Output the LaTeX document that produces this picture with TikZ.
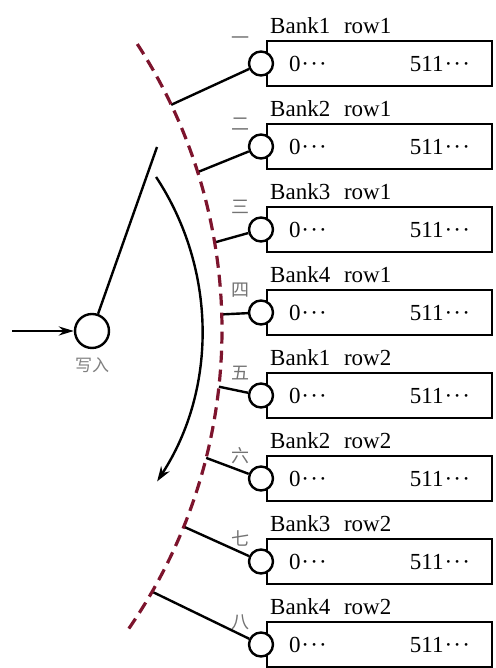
\documentclass[tikz,border=0pt]{standalone}
\usepackage{fontspec}
\setmainfont{Liberation Serif}
\newfontfamily\cjk{Noto Sans CJK SC}
\usepackage{xcolor}
\usepackage{tikz}
\usetikzlibrary{arrows.meta, positioning, calc}
\definecolor{ringred}{RGB}{125,20,45}
\newcommand{\celldots}{\kern1pt·\kern1.2pt·\kern1.2pt·}
\newcommand{\cells}{\makebox[181pt]{0\celldots\hfill 511\celldots}}

\begin{document}
\begin{tikzpicture}[
    x=1pt, y=1pt,
    bankbox/.style={rectangle, draw, line width=2.6pt, minimum width=225pt, minimum height=45pt, inner xsep=22pt, inner ysep=0pt, outer sep=0pt, font=\fontsize{23}{25}\selectfont},
    banklabel/.style={inner sep=0pt, font=\fontsize{23}{25}\selectfont},
    port/.style={circle, draw, line width=2.4pt, fill=white, minimum size=24pt, inner sep=0pt},
    numlabel/.style={inner sep=0pt, text=black!55, font=\cjk\fontsize{18}{20}\selectfont},
    link/.style={line width=2.4pt},
    ring/.style={line width=3.2pt, ringred, dash pattern=on 12pt off 7pt},
    sweep/.style={line width=2.4pt, -{Stealth[length=15pt, width=10pt]}}
]
\useasboundingbox (0,0) rectangle (495,668);

% bank rows
\node[bankbox] (bank1) at (379.5,604.5) {\cells};
\node[bankbox, below=38pt of bank1] (bank2) {\cells};
\node[bankbox, below=38pt of bank2] (bank3) {\cells};
\node[bankbox, below=38pt of bank3] (bank4) {\cells};
\node[bankbox, below=38pt of bank4] (bank5) {\cells};
\node[bankbox, below=38pt of bank5] (bank6) {\cells};
\node[bankbox, below=38pt of bank6] (bank7) {\cells};
\node[bankbox, below=38pt of bank7] (bank8) {\cells};

% row titles
\node[banklabel, above right=7pt and 3pt of bank1.north west] (lab1) {Bank1\hspace{0.6em}row1};
\node[banklabel, above right=7pt and 3pt of bank2.north west] (lab2) {Bank2\hspace{0.6em}row1};
\node[banklabel, above right=7pt and 3pt of bank3.north west] (lab3) {Bank3\hspace{0.6em}row1};
\node[banklabel, above right=7pt and 3pt of bank4.north west] (lab4) {Bank4\hspace{0.6em}row1};
\node[banklabel, above right=7pt and 3pt of bank5.north west] (lab5) {Bank1\hspace{0.6em}row2};
\node[banklabel, above right=7pt and 3pt of bank6.north west] (lab6) {Bank2\hspace{0.6em}row2};
\node[banklabel, above right=7pt and 3pt of bank7.north west] (lab7) {Bank3\hspace{0.6em}row2};
\node[banklabel, above right=7pt and 3pt of bank8.north west] (lab8) {Bank4\hspace{0.6em}row2};

% ports on the left edge
\node[port] (port1) at ([xshift=-6pt]bank1.west) {};
\node[port] (port2) at ([xshift=-6pt]bank2.west) {};
\node[port] (port3) at ([xshift=-6pt]bank3.west) {};
\node[port] (port4) at ([xshift=-6pt]bank4.west) {};
\node[port] (port5) at ([xshift=-6pt]bank5.west) {};
\node[port] (port6) at ([xshift=-6pt]bank6.west) {};
\node[port] (port7) at ([xshift=-6pt]bank7.west) {};
\node[port] (port8) at ([xshift=-6pt]bank8.west) {};

% step numerals
\node[numlabel, left=17pt of bank1.north west] (num1) {一};
\node[numlabel, left=17pt of bank2.north west] (num2) {二};
\node[numlabel, left=17pt of bank3.north west] (num3) {三};
\node[numlabel, left=17pt of bank4.north west] (num4) {四};
\node[numlabel, left=17pt of bank5.north west] (num5) {五};
\node[numlabel, left=17pt of bank6.north west] (num6) {六};
\node[numlabel, left=17pt of bank7.north west] (num7) {七};
\node[numlabel, left=17pt of bank8.north west] (num8) {八};

% write port
\node[port, minimum size=34pt] (wr) at (92,337) {};
\node[below=5pt of wr, text=black!50, font=\cjk\fontsize{17}{19}\selectfont] (wrlab) {写入};
\coordinate (feed) at (12,337);
\coordinate (wtop) at (157,521);
\draw[link, -{Stealth[length=15pt, width=9pt]}] (feed) -- (wr);
\draw[link] (wr) -- (wtop);

% sweep arrow
\coordinate (swc) at (-76,338);
\draw[sweep] ($(swc)+(33.4:278pt)$) arc[start angle=33.4, end angle=-33, radius=278pt];

% dashed ring and taps
\coordinate (ringc) at (-303,338);
\coordinate (tap1) at ($(ringc)+(25.4:525pt)$);
\coordinate (tap2) at ($(ringc)+(17.5:525pt)$);
\coordinate (tap3) at ($(ringc)+(9.6:525pt)$);
\coordinate (tap4) at ($(ringc)+(1.7:525pt)$);
\coordinate (tap5) at ($(ringc)+(-6.2:525pt)$);
\coordinate (tap6) at ($(ringc)+(-14.1:525pt)$);
\coordinate (tap7) at ($(ringc)+(-22.0:525pt)$);
\coordinate (tap8) at ($(ringc)+(-29.9:525pt)$);
\draw[link] (tap1) -- (port1);
\draw[link] (tap2) -- (port2);
\draw[link] (tap3) -- (port3);
\draw[link] (tap4) -- (port4);
\draw[link] (tap5) -- (port5);
\draw[link] (tap6) -- (port6);
\draw[link] (tap7) -- (port7);
\draw[link] (tap8) -- (port8);
\draw[ring] ($(ringc)+(33:525pt)$) arc[start angle=33, end angle=-35, radius=525pt];

\end{tikzpicture}
\end{document}
